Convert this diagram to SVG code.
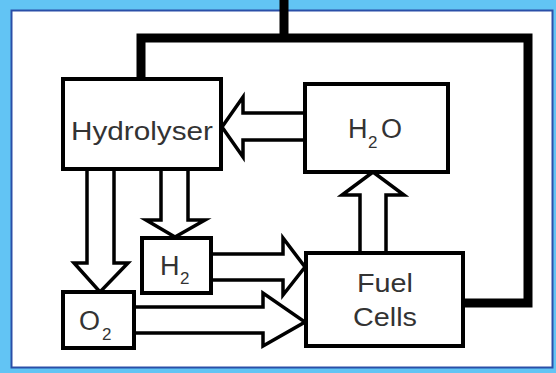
<svg xmlns="http://www.w3.org/2000/svg" width="556" height="373" viewBox="0 0 556 373">
<style>
.box{fill:#fff;stroke:#000;stroke-width:4}
.arr{fill:#fff;stroke:#000;stroke-width:3.5;stroke-linejoin:miter}
.wire{fill:none;stroke:#000;stroke-width:9;stroke-linejoin:miter}
.t{font-family:"Liberation Sans",Arial,sans-serif;fill:#333}
</style>
<rect x="0" y="0" width="556" height="373" fill="#62c4f4"/>
<rect x="11.5" y="10.5" width="541" height="357" fill="#fff" stroke="#2a4fa8" stroke-width="2"/>
<g id="connectors">
<path class="wire" d="M284 0 V38"/>
<path class="wire" d="M141 80 V38 H528 V303 H463"/>
<polygon id="arrow-h2o-hydrolyser" class="arr" points="306,113 243,113 243,97 222,127 243,157 243,140 306,140"/>
<polygon id="arrow-hydrolyser-o2" class="arr" points="87,169 87,263 74,263 100,292 128,263 114,263 114,169"/>
<polygon id="arrow-hydrolyser-h2" class="arr" points="161,169 161,220 146,220 175,237 205,220 188,220 188,169"/>
<polygon id="arrow-h2-fuel" class="arr" points="211,254 283,254 283,238 305,267 283,295 283,280 211,280"/>
<polygon id="arrow-o2-fuel" class="arr" points="134,307 263,307 263,293 305,322 263,346 263,333 134,333"/>
<polygon id="arrow-fuel-h2o" class="arr" points="360,253 360,195 342,195 373,172 404,195 386,195 386,253"/>
</g>
<g id="hydrolyser">
<rect class="box" x="63" y="79" width="158" height="90"/>
<text class="t" x="71" y="140" font-size="25" textLength="142" lengthAdjust="spacingAndGlyphs">Hydrolyser</text>
</g>
<g id="h2o">
<rect class="box" x="305" y="84" width="143" height="88"/>
<text class="t" font-size="27"><tspan x="348" y="138">H</tspan><tspan x="368" y="148" font-size="17">2</tspan><tspan x="381" y="138">O</tspan></text>
</g>
<g id="h2">
<rect class="box" x="142" y="238" width="69" height="55"/>
<text class="t" font-size="27"><tspan x="160" y="275">H</tspan><tspan x="180" y="284" font-size="17">2</tspan></text>
</g>
<g id="o2">
<rect class="box" x="63" y="292" width="71" height="56"/>
<text class="t" font-size="27"><tspan x="79" y="330">O</tspan><tspan x="102" y="340" font-size="17">2</tspan></text>
</g>
<g id="fuelcells">
<rect class="box" x="306" y="253" width="157" height="93"/>
<text class="t" x="357" y="292" font-size="26" textLength="56" lengthAdjust="spacingAndGlyphs">Fuel</text>
<text class="t" x="353" y="326" font-size="26" textLength="64" lengthAdjust="spacingAndGlyphs">Cells</text>
</g>
</svg>
